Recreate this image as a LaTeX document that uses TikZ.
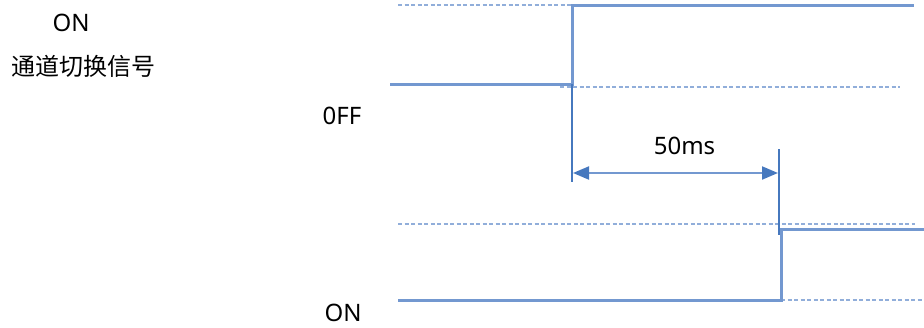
\documentclass[tikz,border=0pt]{standalone}
\usepackage{fontspec}
\setmainfont{Noto Sans}
\newfontfamily\cjk{Noto Sans CJK SC}
\usetikzlibrary{arrows.meta}
\definecolor{sigblue}{RGB}{115,152,208}
\definecolor{dashblue}{RGB}{145,174,218}
\definecolor{thinblue}{RGB}{70,120,190}
\tikzset{
  lbl/.style={font=\fontsize{24}{28}\selectfont, text=black, inner sep=0pt},
  sig/.style={draw=sigblue, line width=3pt, line cap=butt},
  ref/.style={draw=dashblue, line width=2pt, dash pattern=on 4pt off 2.5pt},
  refdark/.style={draw=sigblue, line width=2.4pt, dash pattern=on 5pt off 1.5pt},
  marker/.style={draw=thinblue, line width=1.3pt},
  dim/.style={draw=sigblue, line width=2pt, {Triangle[length=16pt,width=13pt,color=thinblue,fill=thinblue]}-{Triangle[length=16pt,width=13pt,color=thinblue,fill=thinblue]}}
}
\begin{document}
\begin{tikzpicture}[x=1pt,y=-1pt]
\useasboundingbox (0,0) rectangle (924,327);
% labels
\node[lbl] (on1) at (71,23) {ON};
\node[lbl] (title) at (83.5,66) {\cjk 通道切换信号};
\node[lbl] (off) at (342,115.5) {0FF};
\node[lbl] (dt) at (684.5,146) {50ms};
\node[lbl] (on2) at (343,313) {ON};
% top signal reference lines
\draw[ref] (398,5) -- (572,5);
\draw[refdark] (572,5) -- (723,5);
\draw[ref] (560,87) -- (900,87);
% top signal
\coordinate (a0) at (390,84);
\coordinate (a1) at (572,84);
\coordinate (a2) at (572,5);
\coordinate (a3) at (914,5);
\draw[sig] (a0) -- (a1) -- (a2) -- (a3);
% bottom signal reference lines
\draw[ref] (398,224) -- (915,224);
\draw[refdark] (689,300) -- (781,300);
\draw[ref] (781,300) -- (924,300);
% bottom signal
\coordinate (b0) at (398,300);
\coordinate (b1) at (781,300);
\coordinate (b2) at (781,229);
\coordinate (b3) at (924,229);
\draw[sig] (b0) -- (b1) -- (b2) -- (b3);
% timing markers
\coordinate (m1t) at (572,84);
\coordinate (m1b) at (572,182);
\coordinate (m2t) at (779,149);
\coordinate (m2b) at (779,235);
\draw[marker] (m1t) -- (m1b);
\draw[marker] (m2t) -- (m2b);
\coordinate (d1) at (573,173);
\coordinate (d2) at (778,173);
\draw[dim] (d1) -- (d2);
\end{tikzpicture}
\end{document}
